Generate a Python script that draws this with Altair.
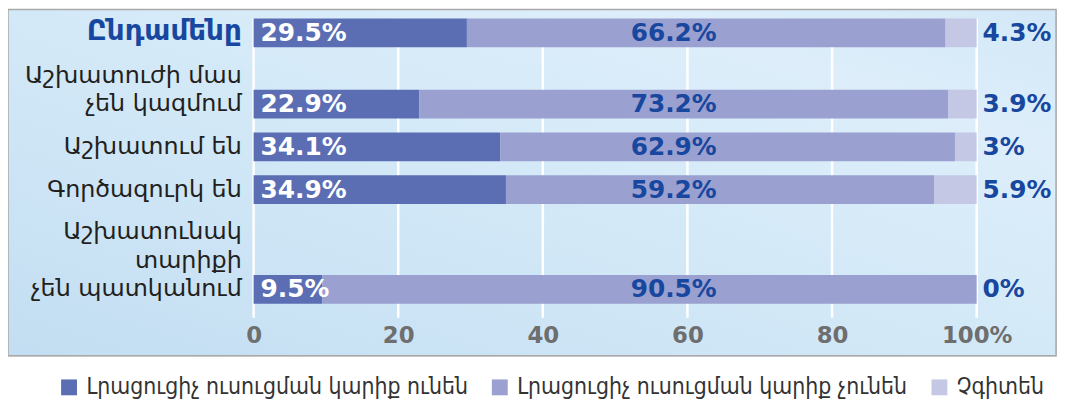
import altair as alt
import pandas as pd

categories = [
    "Ընդամենը",
    "Աշխատուժի մաս\nչեն կազմում",
    "Աշխատում են",
    "Գործազուրկ են",
    "Աշխատունակ\nտարիքի\nչեն պատկանում",
]
series = [
    "Լրացուցիչ ուսուցման կարիք ունեն",
    "Լրացուցիչ ուսուցման կարիք չունեն",
    "Չգիտեն",
]
need_yes = [29.5, 22.9, 34.1, 34.9, 9.5]
need_no = [66.2, 73.2, 62.9, 59.2, 90.5]
dont_know = [4.3, 3.9, 3.0, 5.9, 0.0]
x_ticks = [0, 20, 40, 60, 80, 100]
colors = ["#5b6eb4", "#9aa0cf", "#c5c8e5"]

rows = []
for i, c in enumerate(categories):
    for j, (s, vals) in enumerate(zip(series, [need_yes, need_no, dont_know])):
        rows.append({"cat": c, "series": s, "order": j, "value": vals[i],
                     "label": f"{vals[i]:g}%"})
df = pd.DataFrame(rows)
ticks_df = pd.DataFrame({"tick": x_ticks})
bg_df = pd.DataFrame({"k": [0]})

# band domain: each row takes 3 slots, plus 2 slots per extra label line
domain = ["_top"]
for i, c in enumerate(categories):
    n = len(c.split("\n"))
    domain += [f"_a{i}_{k}" for k in range(2 * (n - 1))]
    domain.append(c)
    domain += [f"_b{i}_{k}" for k in range(2)]
domain.append("_bottom")

FONT = "DejaVu Sans"
DARK_BLUE = "#17479e"
TOTAL = categories[0]
is_total = f"datum.value == '{TOTAL}'"

yscale = alt.Scale(domain=domain, paddingInner=0, paddingOuter=0.651, align=0.105)
xscale = alt.Scale(domain=[-33.97, 110.98], nice=False, zero=False)

y_axis = alt.Axis(
    title=None, offset=-243, labelPadding=8, ticks=False, domain=False, grid=False,
    zindex=2,
    labelExpr="indexof(datum.label, '_') == 0 ? '' : split(datum.label, '\\n')",
    labelFont=FONT,
    labelFontSize={"condition": {"test": is_total, "value": 28}, "value": 24},
    labelColor={"condition": {"test": is_total, "value": DARK_BLUE}, "value": "#231f20"},
    labelFontWeight={"condition": {"test": is_total, "value": "bold"}, "value": "normal"},
    labelBaseline="bottom",
    labelOffset={"condition": [
        {"test": "length(split(datum.value, '\\n')) == 3", "value": -45.4},
        {"test": "length(split(datum.value, '\\n')) == 2", "value": -16.7},
        {"test": is_total, "value": 13},
    ], "value": 12},
    labelLineHeight=28.7, labelLimit=400,
)
x_axis = alt.Axis(
    values=x_ticks, title=None, grid=False, domain=False, ticks=False, tickSize=0,
    zindex=2,
    offset=-34, labelPadding=3, labelFont=FONT, labelFontWeight="bold",
    labelFontSize=23, labelColor="#6e6e6e",
    labelExpr="datum.value == 100 ? '100%' : datum.label",
)

gradient = alt.LinearGradient(
    gradient="linear", x1=0, y1=1, x2=1, y2=0,
    stops=[
        alt.GradientStop(offset=0, color="#c3def2"),
        alt.GradientStop(offset=0.45, color="#d2e8f7"),
        alt.GradientStop(offset=0.8, color="#ddeefa"),
        alt.GradientStop(offset=1, color="#d3e8f7"),
    ],
)
background = alt.Chart(bg_df).mark_rect(
    color=gradient, stroke="#a9a9a9", strokeWidth=1.5
).encode(
    x=alt.value(0), x2=alt.value("width"), y=alt.value(0), y2=alt.value("height"),
)

rules = alt.Chart(ticks_df).mark_rule(color="white", strokeWidth=2.5).encode(
    x=alt.X("tick:Q", scale=xscale, axis=x_axis),
    y=alt.YDatum("_top", type="nominal", scale=yscale, axis=y_axis),
    y2=alt.Y2Datum("_b4_1"),
)

base = alt.Chart(df)

bars = base.mark_bar(size=29).encode(
    x=alt.X("value:Q", stack="zero"),
    y=alt.Y("cat:N"),
    color=alt.Color(
        "series:N",
        scale=alt.Scale(domain=series, range=colors),
        legend=alt.Legend(
            title=None, orient="none", legendX=50, legendY=369, direction="horizontal",
            symbolType="square", symbolSize=256, symbolStrokeWidth=0, symbolOpacity=1,
            labelFont="DejaVu Sans Condensed", labelFontSize=23, labelColor="#333333",
            columnPadding=20, labelOffset=6, labelLimit=600,
        ),
    ),
    order=alt.Order("order:Q"),
)

text_style = dict(font=FONT, fontWeight="bold", fontSize=25, baseline="middle")

t1 = base.transform_filter("datum.order == 0").mark_text(
    align="left", dx=7, color="white", **text_style
).encode(x=alt.XDatum(0), y=alt.Y("cat:N"), text="label:N")

t2 = base.transform_filter("datum.order == 1").mark_text(
    align="center", color=DARK_BLUE, **text_style
).encode(x=alt.XDatum(58.1), y=alt.Y("cat:N"), text="label:N")

t3 = base.transform_filter("datum.order == 2").mark_text(
    align="left", dx=6, color=DARK_BLUE, **text_style
).encode(x=alt.XDatum(100), y=alt.Y("cat:N"), text="label:N")

chart = alt.layer(background, rules, bars, t1, t2, t3).properties(
    width=1056, height=349, autosize="none",
    padding={"left": 0, "top": 0, "right": 6, "bottom": 45},
).configure_view(
    stroke=None,
).configure(background="white")

chart.save("out.html", embed_options={"renderer": "svg", "actions": False})
